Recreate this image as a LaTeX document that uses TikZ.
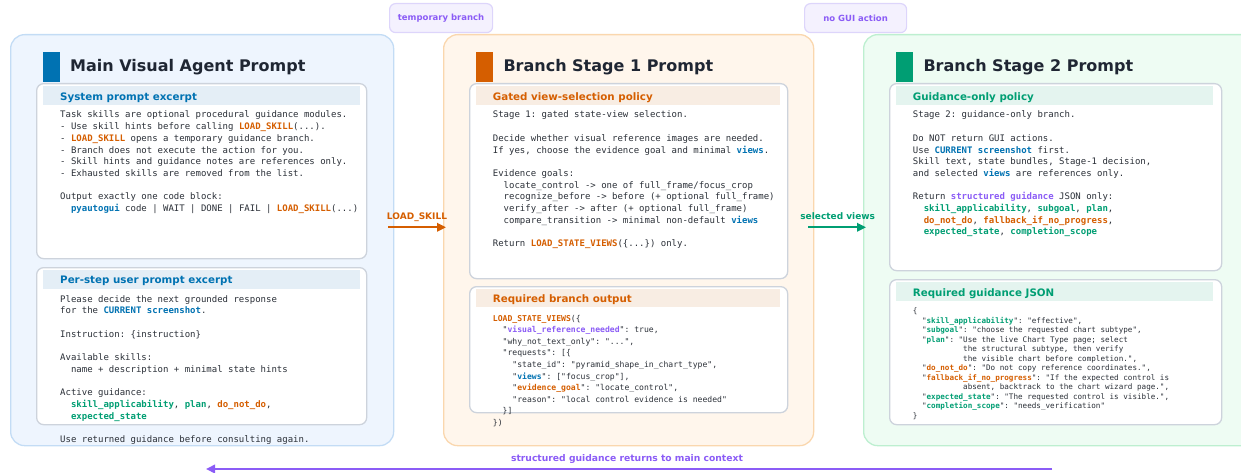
\documentclass[tikz,border=0pt]{standalone}
\usepackage{fontspec}
\setmainfont{DejaVu Sans}
\setmonofont{DejaVu Sans Mono}
\usetikzlibrary{arrows.meta}
\definecolor{cblue}{HTML}{0072B2}
\definecolor{corange}{HTML}{D55E00}
\definecolor{cgreen}{HTML}{009E73}
\definecolor{cpurple}{HTML}{8B5CF6}
\definecolor{ctitle}{HTML}{1F2633}
\definecolor{cbody}{HTML}{2B3038}
\definecolor{pblueF}{HTML}{EEF5FE}\definecolor{pblueD}{HTML}{C3DCF5}
\definecolor{porangeF}{HTML}{FFF6EC}\definecolor{porangeD}{HTML}{FAD7AE}
\definecolor{pgreenF}{HTML}{EEFCF3}\definecolor{pgreenD}{HTML}{BDEFD0}
\definecolor{hblue}{HTML}{E4EEF6}\definecolor{horange}{HTML}{F8EDE3}\definecolor{hgreen}{HTML}{E4F4EF}
\definecolor{boxD}{HTML}{CDD3DC}
\definecolor{tagF}{HTML}{F4F1FE}\definecolor{tagD}{HTML}{DDD5FB}
\newcommand\kb[1]{{\bfseries\color{cblue}#1}}
\newcommand\ko[1]{{\bfseries\color{corange}#1}}
\newcommand\kg[1]{{\bfseries\color{cgreen}#1}}
\newcommand\kp[1]{{\bfseries\color{cpurple}#1}}
\tikzset{
  panel/.style n args={2}{draw=#2, fill=#1, rounded corners=14pt, line width=1.3pt, inner sep=0, anchor=north west},
  innerbox/.style={draw=boxD, fill=white, rounded corners=7pt, line width=1.3pt, inner sep=0, anchor=north west},
  band/.style={fill=#1, inner sep=0, anchor=north west},
  accent/.style={fill=#1, inner sep=0, anchor=north west, minimum width=17pt, minimum height=30pt},
  title/.style={anchor=base west, inner sep=0, text=ctitle, font=\bfseries\fontsize{16}{19}\selectfont},
  head/.style={anchor=base west, inner sep=0, text=#1, font=\bfseries\fontsize{10.3}{12}\selectfont},
  codeA/.style={anchor=base west, inner sep=0, text=cbody, font=\ttfamily\fontsize{9}{11.7}\selectfont\frenchspacing},
  codeB/.style={anchor=base west, inner sep=0, text=cbody, font=\ttfamily\fontsize{8.1}{11.6}\selectfont\frenchspacing},
  codeC/.style={anchor=base west, inner sep=0, text=cbody, font=\ttfamily\fontsize{7.6}{9.52}\selectfont\frenchspacing},
  tag/.style={draw=tagD, fill=tagF, rounded corners=6pt, line width=1.2pt, inner sep=0, text=cpurple, font=\bfseries\fontsize{8.5}{10}\selectfont, minimum height=29pt},
  flowlabel/.style={anchor=base, inner sep=0, font=\bfseries\fontsize{9}{11}\selectfont},
  flow/.style={line width=2pt, -{Triangle[length=9pt,width=8.5pt]}}
}
\begin{document}
\begin{tikzpicture}[x=1pt,y=-1pt]
\useasboundingbox (0,0) rectangle (1241,473);
% panels
\node[panel={pblueF}{pblueD}, minimum width=383pt, minimum height=411pt] (lp) at (10,34) {};
\node[panel={porangeF}{porangeD}, minimum width=370pt, minimum height=411pt] (mp) at (443,34) {};
\begin{scope}
\clip (0,0) rectangle (1241,473);
\node[panel={pgreenF}{pgreenD}, minimum width=392pt, minimum height=411pt] (rp) at (863,34) {};
\end{scope}
% tags
\node[tag, minimum width=103pt, anchor=north west] (tag1) at (389,3) {temporary branch};
\node[tag, minimum width=102pt, anchor=north west] (tag2) at (804,3) {no GUI action};
% titles
\node[accent=cblue] (la) at (43,52) {};
\node[title] (lt) at (70,71.5) {Main Visual Agent Prompt};
\node[accent=corange] (ma) at (476,52) {};
\node[title] (mt) at (503.3,71.5) {Branch Stage 1 Prompt};
\node[accent=cgreen] (ra) at (896,52) {};
\node[title] (rt) at (923.3,71.5) {Branch Stage 2 Prompt};
% inner boxes
\node[innerbox, minimum width=330pt, minimum height=175pt] (lb1) at (36,83) {};
\node[band=hblue, minimum width=317pt, minimum height=19pt] (lh1) at (43,86) {};
\node[head=cblue] (lht1) at (60,100.5) {System prompt excerpt};
\node[innerbox, minimum width=330pt, minimum height=157pt] (lb2) at (36,267) {};
\node[band=hblue, minimum width=317pt, minimum height=19pt] (lh2) at (43,269.5) {};
\node[head=cblue] (lht2) at (60,283.1) {Per-step user prompt excerpt};
\node[innerbox, minimum width=318pt, minimum height=195pt] (mb1) at (469,83) {};
\node[band=horange, minimum width=304pt, minimum height=19pt] (mh1) at (476,86) {};
\node[head=corange] (mht1) at (492.7,100.5) {Gated view-selection policy};
\node[innerbox, minimum width=318pt, minimum height=126pt] (mb2) at (469,286) {};
\node[band=horange, minimum width=304pt, minimum height=18pt] (mh2) at (476,289) {};
\node[head=corange] (mht2) at (492.7,302.1) {Required branch output};
\node[innerbox, minimum width=332pt, minimum height=187pt] (rb1) at (889,83) {};
\node[band=hgreen, minimum width=317pt, minimum height=19pt] (rh1) at (896,86) {};
\node[head=cgreen] (rht1) at (912.7,100.5) {Guidance-only policy};
\node[innerbox, minimum width=332pt, minimum height=145pt] (rb2) at (889,279) {};
\node[band=hgreen, minimum width=317pt, minimum height=19pt] (rh2) at (896,281.5) {};
\node[head=cgreen] (rht2) at (912.7,296.1) {Required guidance JSON};
% texts
\node[codeA] (ltx1) at (60,118) {\begin{tabular}[t]{@{}l@{}}
Task skills are optional procedural guidance modules.\\
- Use skill hints before calling \ko{LOAD\_SKILL}(...).\\
- \ko{LOAD\_SKILL} opens a temporary guidance branch.\\
- Branch does not execute the action for you.\\
- Skill hints and guidance notes are references only.\\
- Exhausted skills are removed from the list.\\
\\
Output exactly one code block:\\
\phantom{xx}\kb{pyautogui} code | WAIT | DONE | FAIL | \ko{LOAD\_SKILL}(...)
\end{tabular}};
\node[codeA] (ltx2) at (60,302) {\begin{tabular}[t]{@{}l@{}}
Please decide the next grounded response\\
for the \kb{CURRENT screenshot}.\\
\\
Instruction: \{instruction\}\\
\\
Available skills:\\
\phantom{xx}name + description + minimal state hints\\
\\
Active guidance:\\
\phantom{xx}\kg{skill\_applicability}, \kg{plan}, \ko{do\_not\_do},\\
\phantom{xx}\kg{expected\_state}\\
\\
Use returned guidance before consulting again.
\end{tabular}};
\node[codeA] (mtx1) at (492.7,118) {\begin{tabular}[t]{@{}l@{}}
Stage 1: gated state-view selection.\\
\\
Decide whether visual reference images are needed.\\
If yes, choose the evidence goal and minimal \kb{views}.\\
\\
Evidence goals:\\
\phantom{xx}locate\_control -> one of full\_frame/focus\_crop\\
\phantom{xx}recognize\_before -> before (+ optional full\_frame)\\
\phantom{xx}verify\_after -> after (+ optional full\_frame)\\
\phantom{xx}compare\_transition -> minimal non-default \kb{views}\\
\\
Return \ko{LOAD\_STATE\_VIEWS}(\{...\}) only.
\end{tabular}};
\node[codeB] (mtx2) at (492.7,321) {\begin{tabular}[t]{@{}l@{}}
\ko{LOAD\_STATE\_VIEWS}(\{\\
\phantom{xx}"\kp{visual\_reference\_needed}": true,\\
\phantom{xx}"why\_not\_text\_only": "...",\\
\phantom{xx}"requests": [\{\\
\phantom{xxxx}"state\_id": "pyramid\_shape\_in\_chart\_type",\\
\phantom{xxxx}"\kb{views}": ["focus\_crop"],\\
\phantom{xxxx}"\ko{evidence\_goal}": "locate\_control",\\
\phantom{xxxx}"reason": "local control evidence is needed"\\
\phantom{xx}\}]\\
\})
\end{tabular}};
\node[codeA] (rtx1) at (912.7,118) {\begin{tabular}[t]{@{}l@{}}
Stage 2: guidance-only branch.\\
\\
Do NOT return GUI actions.\\
Use \kb{CURRENT screenshot} first.\\
Skill text, state bundles, Stage-1 decision,\\
and selected \kb{views} are references only.\\
\\
Return \kp{structured guidance} JSON only:\\
\phantom{xx}\kg{skill\_applicability}, \kg{subgoal}, \kg{plan},\\
\phantom{xx}\ko{do\_not\_do}, \ko{fallback\_if\_no\_progress},\\
\phantom{xx}\kg{expected\_state}, \kg{completion\_scope}
\end{tabular}};
\node[codeC] (rtx2) at (912.7,313.5) {\begin{tabular}[t]{@{}l@{}}
\{\\
\phantom{xx}"\kg{skill\_applicability}": "effective",\\
\phantom{xx}"\kg{subgoal}": "choose the requested chart subtype",\\
\phantom{xx}"\kg{plan}": "Use the live Chart Type page; select\\
\phantom{xxxxxxxxxxx}the structural subtype, then verify\\
\phantom{xxxxxxxxxxx}the visible chart before completion.",\\
\phantom{xx}"\ko{do\_not\_do}": "Do not copy reference coordinates.",\\
\phantom{xx}"\ko{fallback\_if\_no\_progress}": "If the expected control is\\
\phantom{xxxxxxxxxxx}absent, backtrack to the chart wizard page.",\\
\phantom{xx}"\kg{expected\_state}": "The requested control is visible.",\\
\phantom{xx}"\kg{completion\_scope}": "needs\_verification"\\
\}
\end{tabular}};
% connectors
\coordinate (ls1) at (388,227.3);
\coordinate (ls2) at (446,227.3);
\draw[flow, draw=corange, fill=corange] (ls1) -- (ls2);
\node[flowlabel, text=corange] (lsl) at (417,219) {LOAD\_SKILL};
\coordinate (sv1) at (808,227.3);
\coordinate (sv2) at (866,227.3);
\draw[flow, draw=cgreen, fill=cgreen] (sv1) -- (sv2);
\node[flowlabel, text=cgreen] (svl) at (837.7,219) {selected views};
\coordinate (rt1) at (1052,469);
\coordinate (rt2) at (206,469);
\draw[flow, draw=cpurple, fill=cpurple] (rt1) -- (rt2);
\node[flowlabel, text=cpurple, font=\bfseries\fontsize{9.2}{11}\selectfont] (rtl) at (627,461.5) {structured guidance returns to main context};
\end{tikzpicture}
\end{document}
